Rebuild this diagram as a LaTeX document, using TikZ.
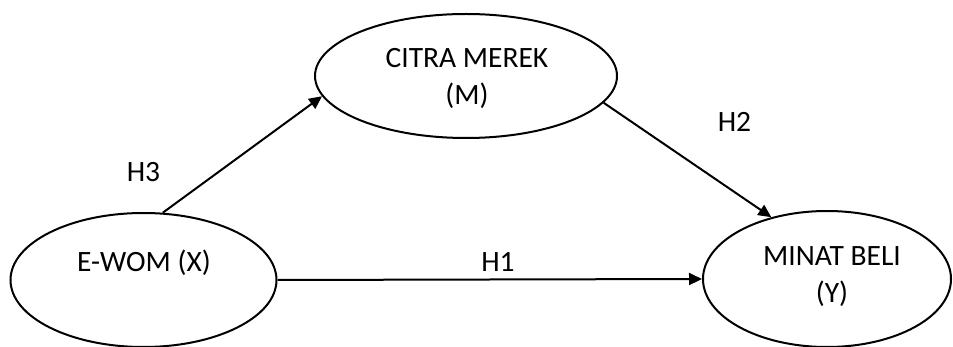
\documentclass[tikz,border=0pt]{standalone}
\usepackage{fontspec}
\setmainfont{Carlito}
\usetikzlibrary{shapes.geometric,arrows.meta}
\begin{document}
\begin{tikzpicture}[x=1pt,y=-1pt,
  construct/.style={draw,ellipse,line width=2pt,inner sep=0pt},
  caption/.style={anchor=base,inner sep=0pt,align=center,
    font=\fontsize{29.5}{37}\selectfont},
  path/.style={line width=2pt,-{Triangle[length=13pt,width=12pt]}}]
  \useasboundingbox (0,0) rectangle (953,347);

  % constructs
  \node[construct,minimum width=266pt,minimum height=134pt] (x) at (143.5,280) {};
  \node[construct,minimum width=302pt,minimum height=124pt] (m) at (466,76) {};
  \node[construct,minimum width=248pt,minimum height=136pt] (y) at (827,279) {};

  % construct names (base anchor sits on the last line)
  \node[caption] (xt) at (144,272) {E-WOM (X)};
  \node[caption] (mt) at (467,105) {CITRA MEREK\\(M)};
  \node[caption] (yt) at (832,303) {MINAT BELI\\(Y)};

  % hypothesised paths
  \draw[path] (x.74) -- (m.188);
  \draw[path] (m.-11) -- (y.132);
  \draw[path] (x.east) -- (y.west);

  % path labels
  \node[caption] (h3) at (143.5,182) {H3};
  \node[caption] (h2) at (734.5,132) {H2};
  \node[caption] (h1) at (498,272) {H1};
\end{tikzpicture}
\end{document}
